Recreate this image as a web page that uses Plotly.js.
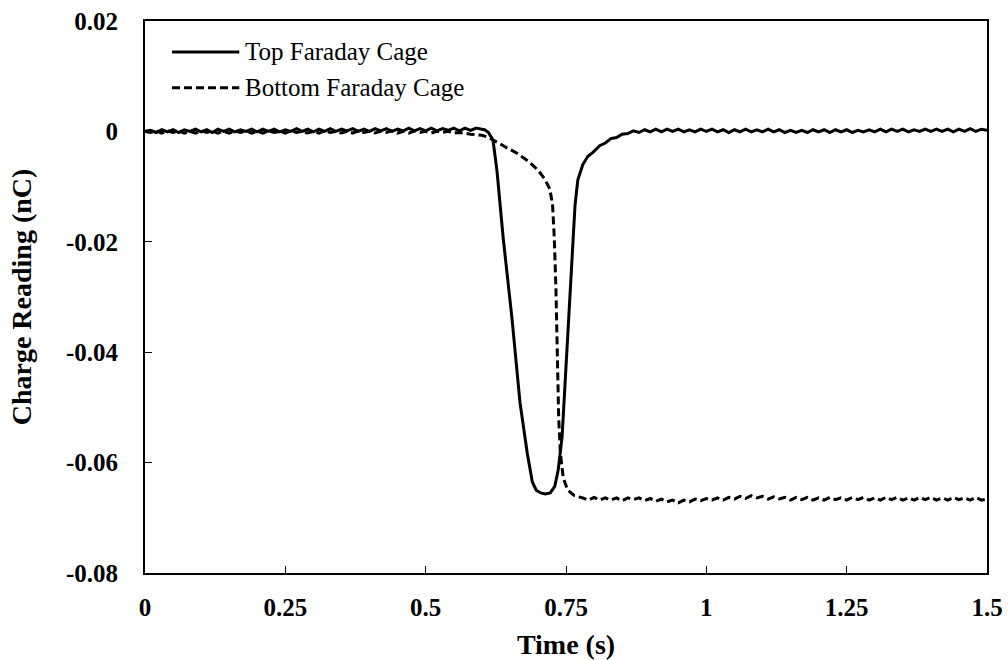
<!DOCTYPE html>
<html>
<head>
<meta charset="utf-8">
<script src="https://cdn.plot.ly/plotly-3.0.1.min.js"></script>
<style>
  html, body { margin: 0; padding: 0; background: #fff; }
  #chart { width: 1008px; height: 660px; }
</style>
</head>
<body>
<div id="chart"></div>
<script>
// Top Faraday cage: time (s) and charge reading (nC)
const topTime = [
  0.00, 0.01, 0.02, 0.03, 0.04, 0.05, 0.06, 0.07, 0.08, 0.09,
  0.10, 0.11, 0.12, 0.13, 0.14, 0.15, 0.16, 0.17, 0.18, 0.19,
  0.20, 0.21, 0.22, 0.23, 0.24, 0.25, 0.26, 0.27, 0.28, 0.29,
  0.30, 0.31, 0.32, 0.33, 0.34, 0.35, 0.36, 0.37, 0.38, 0.39,
  0.40, 0.41, 0.42, 0.43, 0.44, 0.45, 0.46, 0.47, 0.48, 0.49,
  0.50, 0.51, 0.52, 0.53, 0.54, 0.55, 0.56, 0.57, 0.58, 0.59,
  0.60, 0.605, 0.612, 0.620, 0.627, 0.638, 0.654, 0.668, 0.681, 0.690,
  0.697, 0.705, 0.713, 0.722, 0.730, 0.736, 0.743, 0.748, 0.754, 0.761,
  0.766, 0.771, 0.780, 0.789, 0.798, 0.81, 0.82, 0.83, 0.84, 0.85,
  0.86, 0.87, 0.88, 0.89, 0.90, 0.91, 0.92, 0.93, 0.94, 0.95,
  0.96, 0.97, 0.98, 0.99, 1.00, 1.01, 1.02, 1.03, 1.04, 1.05,
  1.06, 1.07, 1.08, 1.09, 1.10, 1.11, 1.12, 1.13, 1.14, 1.15,
  1.16, 1.17, 1.18, 1.19, 1.20, 1.21, 1.22, 1.23, 1.24, 1.25,
  1.26, 1.27, 1.28, 1.29, 1.30, 1.31, 1.32, 1.33, 1.34, 1.35,
  1.36, 1.37, 1.38, 1.39, 1.40, 1.41, 1.42, 1.43, 1.44, 1.45,
  1.46, 1.47, 1.48, 1.49, 1.50
];
const topCharge = [
  0.0000, 0.0002, -0.0002, 0.0003, -0.0001, 0.0003, -0.0002, 0.0003, 0.0000, 0.0004,
  -0.0001, 0.0003, -0.0002, 0.0004, 0.0000, 0.0004, -0.0001, 0.0003, 0.0000, 0.0004,
  -0.0001, 0.0004, 0.0000, 0.0004, -0.0001, 0.0003, 0.0000, 0.0005, 0.0000, 0.0004,
  -0.0001, 0.0004, 0.0000, 0.0005, 0.0000, 0.0004, 0.0001, 0.0005, 0.0000, 0.0004,
  0.0000, 0.0005, 0.0001, 0.0005, 0.0000, 0.0004, 0.0001, 0.0006, 0.0001, 0.0005,
  0.0001, 0.0006, 0.0001, 0.0005, 0.0002, 0.0006, 0.0001, 0.0006, 0.0002, 0.0006,
  0.0004, 0.0003, -0.0002, -0.0016, -0.0071, -0.0192, -0.0341, -0.0491, -0.0583, -0.0635,
  -0.0650, -0.0655, -0.0657, -0.0655, -0.0643, -0.0614, -0.0554, -0.0464, -0.0342, -0.0215,
  -0.0135, -0.0088, -0.0060, -0.0045, -0.0038, -0.0026, -0.0021, -0.0013, -0.0011, -0.0005,
  -0.0004, 0.0001, -0.0002, 0.0003, -0.0001, 0.0004, -0.0001, 0.0004, 0.0000, 0.0004,
  -0.0001, 0.0003, -0.0001, 0.0004, 0.0000, 0.0004, -0.0001, 0.0003, -0.0002, 0.0003,
  -0.0001, 0.0004, -0.0001, 0.0003, -0.0001, 0.0004, -0.0001, 0.0003, -0.0002, 0.0002,
  -0.0002, 0.0002, -0.0002, 0.0003, -0.0001, 0.0003, -0.0002, 0.0003, -0.0001, 0.0003,
  -0.0002, 0.0002, -0.0001, 0.0003, -0.0001, 0.0004, -0.0001, 0.0004, 0.0000, 0.0004,
  -0.0001, 0.0003, 0.0000, 0.0004, 0.0000, 0.0004, 0.0000, 0.0004, -0.0001, 0.0004,
  0.0000, 0.0005, 0.0000, 0.0004, 0.0002
];

// Bottom Faraday cage: time (s) and charge reading (nC)
const bottomTime = [
  0.00, 0.01, 0.02, 0.03, 0.04, 0.05, 0.06, 0.07, 0.08, 0.09,
  0.10, 0.11, 0.12, 0.13, 0.14, 0.15, 0.16, 0.17, 0.18, 0.19,
  0.20, 0.21, 0.22, 0.23, 0.24, 0.25, 0.26, 0.27, 0.28, 0.29,
  0.30, 0.31, 0.32, 0.33, 0.34, 0.35, 0.36, 0.37, 0.38, 0.39,
  0.40, 0.41, 0.42, 0.43, 0.44, 0.45, 0.46, 0.47, 0.48, 0.49,
  0.50, 0.51, 0.52, 0.53, 0.54, 0.55, 0.56, 0.57, 0.58, 0.59,
  0.60, 0.61, 0.620, 0.630, 0.645, 0.662, 0.684, 0.700, 0.712, 0.721,
  0.726, 0.729, 0.732, 0.734, 0.737, 0.740, 0.745, 0.753, 0.765, 0.78,
  0.79, 0.80, 0.81, 0.82, 0.83, 0.84, 0.85, 0.86, 0.87, 0.88,
  0.89, 0.90, 0.91, 0.92, 0.93, 0.94, 0.95, 0.96, 0.97, 0.98,
  0.99, 1.00, 1.01, 1.02, 1.03, 1.04, 1.05, 1.06, 1.07, 1.08,
  1.09, 1.10, 1.11, 1.12, 1.13, 1.14, 1.15, 1.16, 1.17, 1.18,
  1.19, 1.20, 1.21, 1.22, 1.23, 1.24, 1.25, 1.26, 1.27, 1.28,
  1.29, 1.30, 1.31, 1.32, 1.33, 1.34, 1.35, 1.36, 1.37, 1.38,
  1.39, 1.40, 1.41, 1.42, 1.43, 1.44, 1.45, 1.46, 1.47, 1.48,
  1.49, 1.50
];
const bottomCharge = [
  0.0000, -0.0002, 0.0001, -0.0003, 0.0001, -0.0002, 0.0001, -0.0003, 0.0000, -0.0003,
  0.0001, -0.0002, 0.0001, -0.0003, 0.0000, -0.0003, 0.0001, -0.0002, 0.0001, -0.0003,
  0.0000, -0.0003, 0.0001, -0.0002, 0.0000, -0.0003, 0.0001, -0.0002, 0.0000, -0.0003,
  0.0000, -0.0003, 0.0001, -0.0002, 0.0000, -0.0003, 0.0000, -0.0003, 0.0001, -0.0002,
  0.0000, -0.0003, 0.0000, -0.0002, 0.0001, -0.0003, 0.0000, -0.0003, 0.0001, -0.0002,
  0.0000, -0.0003, 0.0000, -0.0002, 0.0000, -0.0003, -0.0002, -0.0004, -0.0005, -0.0006,
  -0.0007, -0.0010, -0.0015, -0.0021, -0.0030, -0.0039, -0.0055, -0.0070, -0.0086, -0.0104,
  -0.0132, -0.0190, -0.0283, -0.0400, -0.0520, -0.0583, -0.0627, -0.0650, -0.0660, -0.0664,
  -0.0668, -0.0663, -0.0668, -0.0664, -0.0668, -0.0664, -0.0669, -0.0664, -0.0667, -0.0664,
  -0.0669, -0.0665, -0.0670, -0.0666, -0.0671, -0.0668, -0.0673, -0.0668, -0.0671, -0.0666,
  -0.0669, -0.0665, -0.0668, -0.0664, -0.0668, -0.0663, -0.0666, -0.0661, -0.0665, -0.0660,
  -0.0664, -0.0661, -0.0666, -0.0662, -0.0666, -0.0663, -0.0668, -0.0663, -0.0667, -0.0663,
  -0.0668, -0.0664, -0.0668, -0.0663, -0.0667, -0.0664, -0.0668, -0.0663, -0.0667, -0.0663,
  -0.0668, -0.0664, -0.0668, -0.0663, -0.0667, -0.0663, -0.0668, -0.0664, -0.0668, -0.0663,
  -0.0667, -0.0663, -0.0668, -0.0664, -0.0668, -0.0663, -0.0667, -0.0664, -0.0668, -0.0663,
  -0.0668, -0.0666
];

const seriesNames = ['Top Faraday Cage', 'Bottom Faraday Cage'];
const seriesDash = ['solid', '8px,4px'];
const xTicks = [0, 0.25, 0.5, 0.75, 1, 1.25, 1.5];
const xTickText = ['0', '0.25', '0.5', '0.75', '1', '1.25', '1.5'];
const yTicks = [0.02, 0, -0.02, -0.04, -0.06, -0.08];
const yTickText = ['0.02', '0', '-0.02', '-0.04', '-0.06', '-0.08'];

const serif = 'Liberation Serif, Times New Roman, serif';

const traces = [
  {
    x: topTime, y: topCharge, type: 'scatter', mode: 'lines', name: seriesNames[0],
    line: { color: '#000', width: 3, dash: seriesDash[0] }
  },
  {
    x: bottomTime, y: bottomCharge, type: 'scatter', mode: 'lines', name: seriesNames[1],
    line: { color: '#000', width: 3, dash: seriesDash[1] }
  }
];

// Legend drawn as line samples with labels in the upper-left corner of the plot
const legendRows = [0.944, 0.879];
const shapes = legendRows.map((yy, i) => ({
  type: 'line', xref: 'paper', yref: 'paper',
  x0: 0.032, x1: 0.112, y0: yy, y1: yy,
  line: { color: '#000', width: 3, dash: seriesDash[i] }
}));
const annotations = legendRows.map((yy, i) => ({
  xref: 'paper', yref: 'paper', x: 0.116, y: yy,
  xanchor: 'left', yanchor: 'middle', showarrow: false,
  text: seriesNames[i],
  font: { family: serif, size: 25, color: '#000' }
}));

const axisCommon = {
  showline: true, linecolor: '#000', linewidth: 2, mirror: true,
  ticks: 'inside', ticklen: 7, tickwidth: 1, tickcolor: '#000',
  showgrid: false, zeroline: false,
  tickfont: { family: serif, size: 25, color: '#000', weight: 'bold' }
};

const layout = {
  width: 1008, height: 660,
  margin: { l: 145, r: 21, t: 21, b: 87 },
  paper_bgcolor: '#fff', plot_bgcolor: '#fff',
  showlegend: false,
  xaxis: Object.assign({}, axisCommon, {
    range: [0, 1.5], tickmode: 'array', tickvals: xTicks, ticktext: xTickText,
    ticklabelstandoff: 11,
    title: { text: 'Time (s)', standoff: 14, font: { family: serif, size: 28, color: '#000', weight: 'bold' } }
  }),
  yaxis: Object.assign({}, axisCommon, {
    range: [-0.08, 0.02], tickmode: 'array', tickvals: yTicks, ticktext: yTickText,
    ticklabelstandoff: 20,
    title: { text: 'Charge Reading (nC)', standoff: 26, font: { family: serif, size: 28, color: '#000', weight: 'bold' } }
  }),
  shapes: shapes,
  annotations: annotations
};

Plotly.newPlot('chart', traces, layout, { displayModeBar: false, staticPlot: true });
</script>
</body>
</html>
